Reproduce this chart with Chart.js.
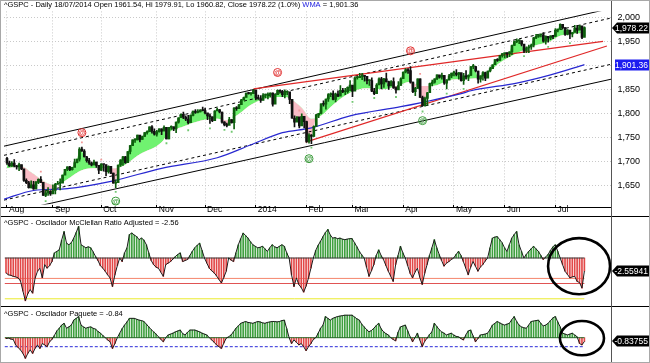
<!DOCTYPE html>
<html>
<head>
<meta charset="utf-8">
<title>^GSPC</title>
<script src="https://cdn.jsdelivr.net/npm/chart.js@4.4.1/dist/chart.umd.min.js"></script>
<style>
  html, body { margin: 0; padding: 0; background: #fff; }
  #wrap { position: relative; width: 650px; height: 363px; overflow: hidden; background: #fff; }
  #wrap canvas { position: absolute; left: 0; }
  .rule { position: absolute; background: #000; }
  #frame { position: absolute; left: 0; top: 0; width: 650px; height: 363px; box-sizing: border-box; border: 1px solid #a8a8a8; pointer-events: none; }
</style>
</head>
<body>
<div id="wrap">
  <canvas id="price" width="650" height="216" style="top:0"></canvas>
  <canvas id="mcc" width="650" height="89" style="top:217px"></canvas>
  <canvas id="paq" width="650" height="55" style="top:307px"></canvas>
  <div class="rule" style="left:0;top:207px;width:611px;height:1px"></div>
  <div class="rule" style="left:0;top:216px;width:650px;height:1px"></div>
  <div class="rule" style="left:0;top:306px;width:650px;height:1px"></div>
  <div class="rule" style="left:611px;top:0;width:1px;height:363px;background:#555"></div>
  <div id="frame"></div>
</div>
<script>
// --- data (trading days, 6 Aug 2013 .. 18 Jul 2014, index 0..239) ---
const monthTicks = [0, 19, 39, 62, 82, 103, 124, 143, 164, 185, 206, 227];
const monthLabels = ['Aug', 'Sep', 'Oct', 'Nov', 'Dec', '2014', 'Feb', 'Mar', 'Apr', 'May', 'Jun', 'Jul'];
const priceTicks = [1650, 1700, 1750, 1800, 1850, 1900, 1950, 2000];

const priorClose = 1707;
const closes = [
  1697,1691,1697,1691,1689,1694,1685,1661,1656,1646,1652,1643,1657,1663,1657,1630,1635,1638,1633,
  1640,1653,1655,1655,1672,1684,1689,1683,1688,1698,1705,1726,1722,1710,1702,1697,1693,1699,1692,1682,
  1695,1694,1679,1690,1676,1655,1656,1693,1703,1710,1698,1721,1733,1745,1745,1755,1746,1752,1760,1762,1772,1763,1757,
  1762,1768,1763,1771,1747,1771,1772,1768,1782,1791,1798,1792,1788,1781,1796,1805,1802,1803,1807,1806,
  1801,1795,1793,1785,1805,1808,1803,1782,1776,1775,1787,1781,1811,1810,1818,1828,1833,1842,1841,1841,1848,
  1832,1831,1827,1838,1838,1838,1842,1819,1839,1848,1846,1839,1844,1845,1829,1790,1782,1793,1774,1794,1783,
  1742,1755,1752,1773,1797,1800,1820,1819,1830,1839,1841,1829,1840,1836,1848,1845,1845,1854,1859,
  1846,1874,1874,1877,1878,1877,1868,1868,1846,1841,1859,1872,1861,1872,1866,1857,1866,1853,1849,1858,1872,
  1886,1891,1889,1865,1845,1852,1872,1833,1816,1831,1843,1862,1865,1872,1880,1875,1879,1863,1869,1878,1884,
  1884,1881,1885,1868,1878,1876,1879,1897,1897,1888,1871,1878,1885,1873,1888,1893,1901,1912,1910,1920,1924,
  1925,1924,1928,1941,1949,1951,1951,1944,1930,1936,1938,1942,1957,1960,1963,1963,1950,1960,1957,1961,1960,
  1973,1975,1985,1978,1964,1973,1965,1968,1977,1973,1982,1958,1978.22
];
const highs = [
  1709,1701,1700,1704,1692,1697,1693,1675,1664,1659,1660,1659,1659,1664,1669,1652,1641,1646,1640,
  1652,1655,1659,1664,1672,1684,1689,1690,1688,1705,1705,1729,1730,1725,1711,1707,1699,1703,1699,1688,
  1696,1694,1693,1691,1687,1676,1662,1693,1704,1711,1711,1721,1734,1745,1747,1755,1753,1753,1760,1764,1772,1775,1768,
  1765,1768,1768,1774,1770,1771,1774,1772,1782,1791,1799,1803,1795,1796,1797,1805,1808,1808,1808,1813,
  1811,1800,1799,1793,1806,1811,1808,1803,1783,1780,1792,1787,1812,1814,1819,1829,1834,1842,1844,1843,1849,
  1846,1838,1837,1841,1840,1843,1843,1843,1839,1849,1849,1848,1849,1847,1842,1826,1795,1793,1791,1799,1793,
  1784,1758,1756,1774,1798,1800,1820,1826,1830,1841,1843,1847,1842,1847,1858,1852,1852,1855,1868,
  1857,1876,1877,1883,1883,1878,1874,1869,1874,1852,1862,1874,1875,1873,1884,1867,1868,1874,1855,1866,1874,
  1886,1893,1893,1897,1865,1854,1872,1872,1836,1834,1844,1863,1869,1872,1880,1879,1884,1877,1870,1881,1884,
  1888,1891,1885,1882,1883,1889,1880,1897,1902,1898,1888,1878,1887,1886,1888,1896,1901,1912,1914,1920,1924,
  1925,1926,1928,1942,1950,1955,1951,1950,1943,1938,1942,1944,1958,1964,1964,1964,1968,1961,1960,1961,1962,
  1976,1975,1986,1985,1978,1974,1968,1968,1983,1983,1983,1980,1979.91
];
const lows = [
  1694,1690,1690,1689,1684,1681,1683,1659,1654,1645,1645,1642,1643,1654,1656,1630,1627,1630,1630,
  1634,1633,1653,1641,1656,1675,1681,1681,1682,1696,1697,1701,1721,1709,1699,1694,1691,1693,1688,1675,
  1681,1680,1671,1676,1675,1655,1646,1660,1690,1692,1696,1699,1716,1735,1740,1745,1741,1746,1752,1757,1762,1759,1755,
  1753,1761,1756,1764,1747,1747,1767,1764,1760,1780,1791,1789,1785,1778,1784,1795,1800,1801,1803,1805,
  1799,1787,1779,1783,1790,1806,1801,1780,1774,1772,1777,1780,1768,1806,1811,1819,1828,1834,1840,1838,1842,
  1828,1829,1823,1828,1832,1830,1834,1815,1821,1840,1844,1835,1832,1839,1820,1790,1772,1783,1770,1775,1770,
  1740,1738,1737,1752,1774,1791,1799,1815,1809,1825,1835,1828,1824,1835,1840,1843,1839,1842,1847,
  1835,1849,1871,1874,1870,1867,1861,1858,1845,1839,1843,1860,1851,1854,1865,1850,1858,1852,1842,1850,1858,
  1873,1884,1883,1863,1843,1837,1852,1833,1815,1815,1817,1843,1857,1863,1870,1873,1871,1860,1851,1870,1874,
  1878,1878,1871,1867,1860,1871,1868,1879,1893,1886,1863,1865,1869,1868,1874,1886,1893,1902,1908,1910,1917,
  1915,1916,1918,1922,1941,1947,1945,1940,1926,1926,1926,1933,1938,1955,1958,1959,1948,1944,1948,1953,1955,
  1960,1969,1975,1976,1962,1963,1955,1959,1970,1966,1974,1955,1960.82
];

// moving average band under the price
const bandX = [0, 6, 10, 16, 20, 23, 31, 37, 44, 47, 55, 64, 67, 73, 80, 87, 91, 96, 101, 108, 115, 118, 122, 126, 130, 135, 142, 149, 156, 163, 167, 171, 176, 184, 192, 197, 204, 211, 218, 225, 229, 234, 239];
const bandY = [1686, 1690, 1678, 1657, 1651, 1657, 1682, 1686, 1686, 1688, 1715, 1740, 1760, 1773, 1785, 1789, 1786, 1799, 1818, 1832, 1834, 1828, 1812, 1789, 1795, 1818, 1843, 1852, 1850, 1860, 1866, 1857, 1857, 1870, 1872, 1876, 1905, 1925, 1940, 1950, 1961, 1965, 1967];

// WMA
const wmaX = [-1.2, 11, 25, 43, 64, 87, 101, 114, 126, 142, 163, 171, 188, 192, 211, 225, 239];
const wmaY = [1622, 1640, 1644, 1659, 1686, 1708, 1735, 1760, 1770, 1795, 1814, 1822, 1841, 1847, 1863, 1880, 1901.36];

// channel and trend lines
const channelX = [-1.24, 250];
const upperSolid = [1732, 2018];
const upperDashed = [1713, 1998];
const lowerDashed = [1620, 1902];
const lowerSolid = [1592, 1871];
const resistX = [102, 246.7];
const resistY = [1851, 1949.5];
const supportX = [123.6, 248.3];
const supportY = [1740.5, 1940];

// swing dots and @ signals
const highDotX = [14, 31, 39, 121, 171];
const highDotY = [1679, 1740, 1704, 1806, 1882];
const lowDotX = [16, 45, 66, 75, 84, 90, 93, 126, 143, 152, 161, 172, 182, 189, 214, 224, 233];
const lowDotY = [1618, 1637, 1738, 1765, 1769, 1766, 1762, 1729, 1824, 1832, 1834, 1804, 1841, 1851, 1919, 1938, 1946];
const sellAtX = [31, 112, 167];
const sellAtY = [1760, 1885, 1930];
const buyAtX = [45, 125, 172];
const buyAtY = [1618, 1706, 1785];

// oscillators
const mcclellan = [
  -2.9,-3.3,-3.4,-3.6,-3.7,-3.9,-4.5,-6.5,-8.4,-7.0,
  -6.2,-6.9,-4.0,-2.6,-2.0,-3.9,-1.3,-2.0,-1.5,-0.7,
  1.0,1.3,1.6,3.5,5.2,2.9,2.6,3.0,3.9,5.0,
  6.2,2.6,2.3,2.0,2.2,2.0,1.2,0.3,-0.5,-1.5,
  -2.0,-2.6,-3.3,-3.9,-5.6,-3.3,-1.5,0.0,-0.7,1.0,
  2.0,4.6,4.9,4.5,4.2,3.6,3.9,3.5,2.6,1.0,
  -0.5,-1.3,-1.8,-2.0,-2.8,-3.6,-1.3,-1.0,-0.7,-0.2,
  0.3,0.7,1.0,-0.7,-0.5,-0.3,0.5,1.3,2.0,2.5,
  2.9,1.5,0.0,-1.0,-2.0,-2.5,-2.9,-3.5,-4.2,-4.9,
  -3.8,-2.6,0.0,-0.4,-0.7,1.0,2.6,3.8,4.9,4.4,
  3.9,3.2,2.6,2.3,2.0,2.1,2.3,1.8,1.3,2.0,
  2.6,2.2,2.0,2.3,2.6,2.3,1.0,0.0,-3.3,-5.6,
  -3.9,-5.2,-5.8,-6.7,-5.5,-3.9,-2.0,0.0,1.5,2.5,
  3.3,4.2,5.0,5.6,4.5,3.9,4.0,3.8,3.9,3.7,
  3.6,3.7,3.8,3.8,3.0,2.2,1.3,0.6,0.0,-1.8,
  -3.6,-2.5,-1.3,0.5,1.6,0.5,-0.3,-1.5,-2.6,-3.6,
  -4.6,-1.3,0.5,2.3,1.0,0.0,-1.5,-3.0,-3.9,-2.8,
  -2.0,-3.8,-5.2,-3.0,-1.3,0.5,2.0,3.6,2.0,0.7,
  -0.5,-1.6,-1.0,-0.7,-0.3,0.0,0.7,1.3,0.5,-0.7,
  -2.0,-3.3,-1.8,-0.7,-1.6,-2.6,-1.8,-1.3,-0.6,0.0,
  2.0,3.9,4.1,4.2,3.6,3.0,2.0,1.3,2.6,3.9,
  4.6,5.2,2.6,1.3,0.0,0.7,1.3,1.8,2.3,1.8,
  1.3,0.5,-0.3,0.2,0.7,1.5,2.2,2.6,1.3,0.0,
  -1.3,-2.6,-3.2,-3.9,-3.7,-3.6,-4.6,-4.8,-5.9,-2.56
];
const paquete = [
  -0.2,-0.1,-0.3,-0.4,-1.6,-2.2,-2.7,-3.5,-4.6,-3.5,
  -2.7,-3.5,-2.4,-1.6,-2.4,-1.3,-1.6,-2.0,-0.9,-0.4,
  0.5,1.5,2.1,2.8,3.2,2.1,2.4,2.8,3.9,4.3,
  4.7,2.8,2.4,2.1,2.3,2.4,2.1,1.9,1.4,1.0,
  0.5,0.0,-0.5,-0.9,-2.4,-1.3,0.0,1.0,2.0,2.8,
  3.5,4.3,4.3,4.3,4.1,3.9,3.8,3.6,3.0,2.4,
  1.8,1.3,0.8,0.2,-0.4,-0.9,0.0,0.6,0.8,1.0,
  1.3,1.5,1.7,0.9,0.6,1.2,1.7,1.7,1.7,1.5,
  1.3,1.0,0.8,0.6,0.0,-0.5,-1.0,-1.6,-2.0,-2.4,
  -1.2,-0.1,0.2,0.6,1.3,2.1,2.6,3.2,3.4,3.6,
  3.4,3.3,3.2,3.4,3.6,3.5,3.3,3.2,3.4,3.5,
  3.6,3.6,3.5,3.6,3.8,3.9,2.0,0.0,-1.3,-0.5,
  -1.0,-1.6,-1.3,-2.0,-2.9,-2.0,-1.3,-0.4,0.0,1.0,
  2.1,2.8,4.7,4.3,3.9,4.3,4.5,4.7,4.8,4.9,
  5.0,5.0,5.0,5.0,4.6,4.2,3.9,3.0,2.4,1.8,
  1.3,1.6,2.1,2.7,3.2,2.0,1.3,0.9,0.6,0.0,
  -0.4,-0.7,1.2,2.4,2.6,2.8,1.5,0.2,-0.9,0.0,
  1.0,-0.5,-2.0,-0.8,-0.1,0.7,1.3,3.2,2.5,1.8,
  1.3,1.0,0.6,0.8,1.0,0.6,0.3,0.2,-0.2,-0.5,
  0.6,1.5,1.7,0.4,-0.9,-0.2,0.6,0.7,0.8,1.0,
  1.8,2.8,3.2,3.6,3.3,3.0,2.8,3.0,3.2,4.0,
  4.7,3.6,2.8,2.4,2.2,2.1,2.8,3.6,3.7,3.8,
  3.9,3.2,2.6,2.8,3.2,3.8,4.4,4.7,3.5,2.4,
  1.0,0.8,0.6,0.8,1.0,0.6,0.2,-1.3,-1.6,-0.84
];
const levelX = [-0.5, 239];
const mccLevels = [-4, -5, -8];
const mccLevelColors = ['#f4866c', '#e05454', '#eaea2a'];
const paqLevels = [-2];

// --- look ---
const FONT = '"Liberation Sans", Arial, sans-serif';
const X_MIN = -1.24, X_MAX = 250;
const UP = '#0d5e0d', DOWN = '#111111';
const FILL_UP = 'rgb(112,242,112)', FILL_DOWN = 'rgb(250,188,198)';
const OSC_UP = '#3f9f3f', OSC_DOWN = '#e24848';

Chart.defaults.font.family = FONT;
Chart.defaults.animation = false;
Chart.defaults.events = [];
Chart.defaults.plugins.legend.display = false;
Chart.defaults.plugins.tooltip.enabled = false;

function pts(xs, ys) { return xs.map((x, i) => ({ x: x, y: ys[i] })); }
const idx = closes.map((_, i) => i);
const opens = closes.map((c, i) => (i === 0 ? priorClose : closes[i - 1]));
const candleColor = closes.map((c, i) => (c >= opens[i] ? UP : DOWN));

function flatLine(y, color, extra) {
  return Object.assign({
    type: 'line', data: pts(levelX, [y, y]), borderColor: color, borderWidth: 1,
    pointRadius: 0, order: 5
  }, extra || {});
}

// --- plugins ---
const paneTitle = {
  id: 'paneTitle',
  afterDraw(chart, args, opts) {
    const ctx = chart.ctx;
    ctx.save();
    ctx.font = '7.5px ' + FONT;
    ctx.textBaseline = 'middle';
    let x = opts.x;
    opts.parts.forEach((p) => {
      ctx.fillStyle = p.color;
      ctx.fillText(p.text, x, opts.y);
      x += ctx.measureText(p.text).width;
    });
    ctx.restore();
  }
};

const valueTags = {
  id: 'valueTags',
  afterDraw(chart, args, opts) {
    const ctx = chart.ctx;
    const ys = chart.scales.y;
    const left = chart.chartArea.right + 1;
    const right = chart.width;
    opts.tags.forEach((t) => {
      const py = Math.round(ys.getPixelForValue(t.value));
      const h = 11;
      ctx.save();
      ctx.fillStyle = t.bg;
      ctx.beginPath();
      if (t.arrow) {
        ctx.moveTo(left, py);
        ctx.lineTo(left + 5, py - h / 2);
        ctx.lineTo(right, py - h / 2);
        ctx.lineTo(right, py + h / 2);
        ctx.lineTo(left + 5, py + h / 2);
        ctx.closePath();
      } else {
        ctx.rect(left + 3, py - h / 2, right - left - 3, h);
      }
      ctx.fill();
      ctx.fillStyle = '#fff';
      ctx.font = '8.5px ' + FONT;
      ctx.textAlign = 'right';
      ctx.textBaseline = 'middle';
      ctx.fillText(t.text, right - 2, py + 0.5);
      ctx.restore();
    });
  }
};

const signalMarks = {
  id: 'signalMarks',
  afterDatasetsDraw(chart, args, opts) {
    const ctx = chart.ctx, xs = chart.scales.x, ys = chart.scales.y;
    ctx.save();
    opts.sets.forEach((s) => {
      s.x.forEach((xv, i) => {
        const px = xs.getPixelForValue(xv), py = ys.getPixelForValue(s.y[i]);
        ctx.strokeStyle = s.color;
        ctx.fillStyle = s.color;
        ctx.lineWidth = 1;
        ctx.beginPath();
        ctx.arc(px, py, 4, 0, Math.PI * 2);
        ctx.stroke();
        ctx.font = 'bold 7px ' + FONT;
        ctx.textAlign = 'center';
        ctx.textBaseline = 'middle';
        ctx.fillText('@', px, py + 0.5);
      });
    });
    ctx.restore();
  }
};

const ringMark = {
  id: 'ringMark',
  afterDatasetsDraw(chart, args, opts) {
    const ctx = chart.ctx, xs = chart.scales.x, ys = chart.scales.y;
    const cx = xs.getPixelForValue(opts.x), cy = ys.getPixelForValue(opts.y);
    const rx = Math.abs(xs.getPixelForValue(opts.x + opts.rx) - cx);
    const ry = Math.abs(ys.getPixelForValue(opts.y + opts.ry) - cy);
    ctx.save();
    ctx.strokeStyle = '#000';
    ctx.lineWidth = 2.6;
    ctx.beginPath();
    ctx.ellipse(cx, cy, rx, ry, 0, 0, Math.PI * 2);
    ctx.stroke();
    ctx.restore();
  }
};

// --- price pane ---
new Chart(document.getElementById('price'), {
  type: 'bar',
  data: {
    datasets: [
      { type: 'line', data: pts(bandX, bandY), borderColor: 'transparent', borderWidth: 0, pointRadius: 0,
        cubicInterpolationMode: 'monotone', order: 30 },
      { type: 'line', data: pts(idx, closes), borderColor: 'transparent', borderWidth: 0, pointRadius: 0,
        fill: { target: 0, above: FILL_UP, below: FILL_DOWN }, order: 29 },
      { type: 'line', data: pts(channelX, upperSolid), borderColor: '#000', borderWidth: 1, pointRadius: 0, order: 10 },
      { type: 'line', data: pts(channelX, upperDashed), borderColor: '#000', borderWidth: 1, borderDash: [3, 3], pointRadius: 0, order: 10 },
      { type: 'line', data: pts(channelX, lowerDashed), borderColor: '#000', borderWidth: 1, borderDash: [3, 3], pointRadius: 0, order: 10 },
      { type: 'line', data: pts(channelX, lowerSolid), borderColor: '#000', borderWidth: 1, pointRadius: 0, order: 10 },
      { type: 'line', data: pts(resistX, resistY), borderColor: '#e02828', borderWidth: 1.2, pointRadius: 0, order: 9 },
      { type: 'line', data: pts(supportX, supportY), borderColor: '#e02828', borderWidth: 1.2, pointRadius: 0, order: 9 },
      { type: 'line', data: pts(wmaX, wmaY), borderColor: '#2828d0', borderWidth: 1.2, pointRadius: 0,
        cubicInterpolationMode: 'monotone', order: 8 },
      { type: 'bar', data: idx.map((i) => ({ x: i, y: [lows[i], highs[i]] })), backgroundColor: candleColor,
        barThickness: 1, grouped: false, order: 3 },
      { type: 'bar', data: idx.map((i) => ({ x: i, y: [opens[i], closes[i]] })), backgroundColor: candleColor,
        barThickness: 2, minBarLength: 1, grouped: false, order: 2 },
      { type: 'scatter', data: pts(highDotX, highDotY), pointStyle: 'rect', pointRadius: 1.3,
        backgroundColor: '#f29a9a', borderWidth: 0, order: 1 },
      { type: 'scatter', data: pts(lowDotX, lowDotY), pointStyle: 'rect', pointRadius: 1.3,
        backgroundColor: '#72c872', borderWidth: 0, order: 1 }
    ]
  },
  options: {
    responsive: false,
    layout: { padding: { left: 3, right: 10, top: 0, bottom: 0 } },
    scales: {
      x: {
        type: 'linear', min: X_MIN, max: X_MAX, offset: false,
        afterBuildTicks: (axis) => { axis.ticks = monthTicks.map((v) => ({ value: v })); },
        afterFit: (axis) => { axis.height = 9; },
        ticks: {
          autoSkip: false, maxRotation: 0, align: 'start', labelOffset: 2, padding: -3,
          color: '#000', font: { size: 8.5 },
          callback: (v) => monthLabels[monthTicks.indexOf(v)]
        },
        grid: { offset: false, color: '#c9c9c9', tickColor: '#000', tickLength: 3, lineWidth: 1 },
        border: { display: false, dash: [1, 2] }
      },
      y: {
        position: 'right', min: 1610.7, max: 2011.8,
        afterBuildTicks: (axis) => { axis.ticks = priceTicks.map((v) => ({ value: v })); },
        afterFit: (axis) => { axis.width = 29; },
        ticks: {
          color: '#000', font: { size: 9 }, padding: 6, crossAlign: 'far',
          callback: (v) => v.toLocaleString('en-US')
        },
        grid: { color: '#c9c9c9', drawTicks: false, lineWidth: 1 },
        border: { display: false, dash: [1, 2] }
      }
    },
    plugins: {
      paneTitle: {
        x: 4, y: 5,
        parts: [
          { text: '^GSPC - Daily 18/07/2014 Open 1961.54, Hi 1979.91, Lo 1960.82, Close 1978.22 (1.0%) ', color: '#000' },
          { text: 'WMA', color: '#2020e0' },
          { text: ' = 1,901.36', color: '#000' }
        ]
      },
      valueTags: {
        tags: [
          { value: closes[closes.length - 1], text: '1,978.22', bg: '#000', arrow: true },
          { value: wmaY[wmaY.length - 1], text: '1,901.36', bg: '#1c1cf0', arrow: false }
        ]
      },
      signalMarks: {
        sets: [
          { x: sellAtX, y: sellAtY, color: '#e03030' },
          { x: buyAtX, y: buyAtY, color: '#3a9a3a' }
        ]
      }
    }
  },
  plugins: [paneTitle, valueTags, signalMarks]
});

// --- McClellan pane ---
new Chart(document.getElementById('mcc'), {
  type: 'bar',
  data: {
    datasets: [
      { type: 'line', data: pts(idx, mcclellan), borderColor: '#1a1a1a', borderWidth: 1, pointRadius: 0, order: 0 },
      { type: 'bar', data: pts(idx, mcclellan), backgroundColor: mcclellan.map((v) => (v >= 0 ? OSC_UP : OSC_DOWN)),
        barThickness: 1, grouped: false, order: 4 },
      flatLine(0, '#3a3a3a', { order: 1 })
    ].concat(mccLevels.map((lv, k) => flatLine(lv, mccLevelColors[k])))
  },
  options: {
    responsive: false,
    layout: { padding: { left: 3, right: 39, top: 0, bottom: 0 } },
    scales: {
      x: { type: 'linear', min: X_MIN, max: X_MAX, offset: false, display: false },
      y: { min: -9.41, max: 8.04, display: false }
    },
    plugins: {
      paneTitle: { x: 4, y: 6, parts: [{ text: '^GSPC - Oscilador McClellan Ratio Adjusted = -2.56', color: '#000' }] },
      valueTags: { tags: [{ value: mcclellan[mcclellan.length - 1], text: '-2.55941', bg: '#000', arrow: true }] },
      ringMark: { x: 236.8, y: -1.6, rx: 12.8, ry: 5.5 }
    }
  },
  plugins: [paneTitle, valueTags, ringMark]
});

// --- Paquete pane ---
new Chart(document.getElementById('paq'), {
  type: 'bar',
  data: {
    datasets: [
      { type: 'line', data: pts(idx, paquete), borderColor: '#1a1a1a', borderWidth: 1, pointRadius: 0, order: 0 },
      { type: 'bar', data: pts(idx, paquete), backgroundColor: paquete.map((v) => (v >= 0 ? OSC_UP : OSC_DOWN)),
        barThickness: 1, grouped: false, order: 4 },
      flatLine(0, '#2c6a2c', { order: 1 })
    ].concat(paqLevels.map((lv) => flatLine(lv, '#2a2ad8', { borderDash: [3, 2] })))
  },
  options: {
    responsive: false,
    layout: { padding: { left: 3, right: 39, top: 0, bottom: 0 } },
    scales: {
      x: { type: 'linear', min: X_MIN, max: X_MAX, offset: false, display: false },
      y: { min: -5.4, max: 6.82, display: false }
    },
    plugins: {
      paneTitle: { x: 4, y: 7, parts: [{ text: '^GSPC - Oscilador Paquete = -0.84', color: '#000' }] },
      valueTags: { tags: [{ value: paquete[paquete.length - 1], text: '-0.83755', bg: '#000', arrow: true }] },
      ringMark: { x: 238, y: -0.1, rx: 9.1, ry: 3.8 }
    }
  },
  plugins: [paneTitle, valueTags, ringMark]
});
</script>
</body>
</html>
